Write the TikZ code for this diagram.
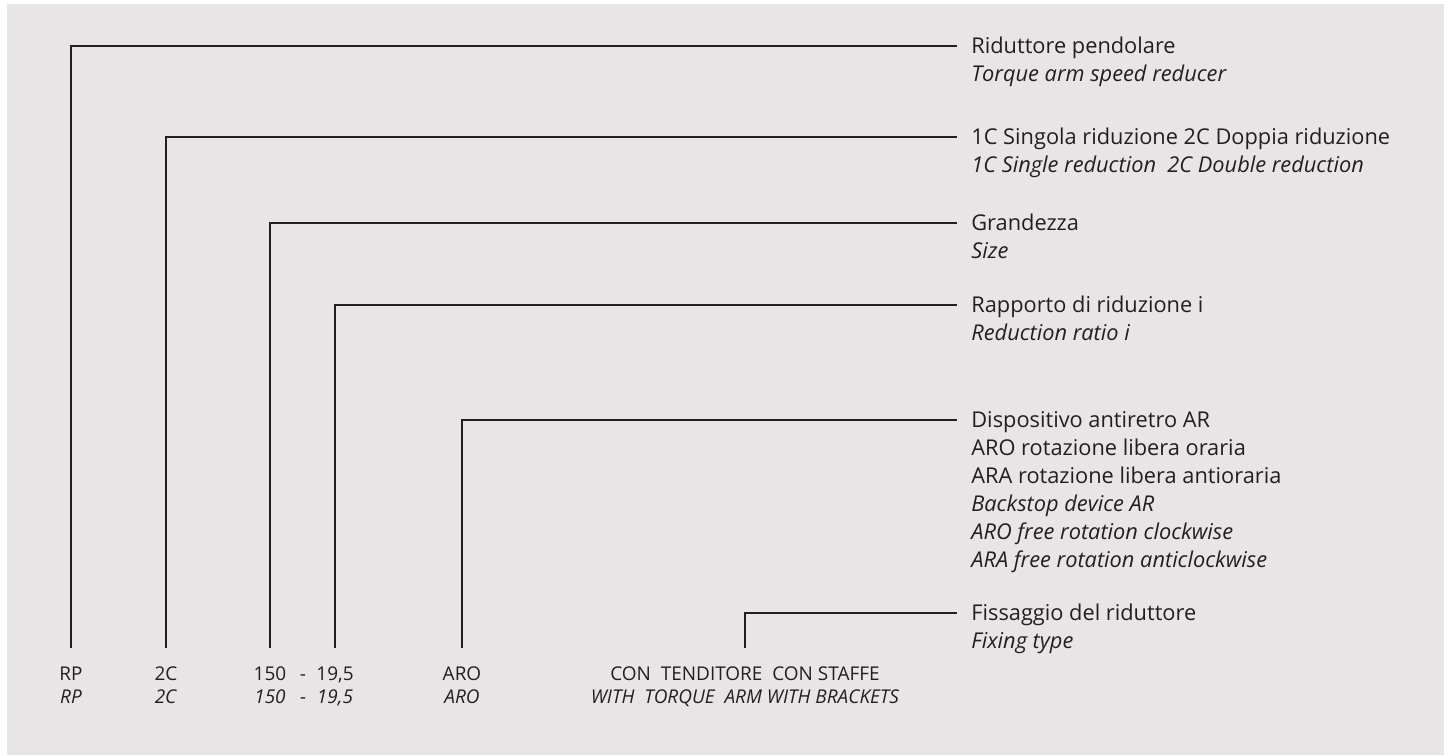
\documentclass[tikz,border=0pt]{standalone}
\usepackage{fontspec}
\setmainfont{Open Sans}
\usetikzlibrary{positioning}

\definecolor{paper}{HTML}{E7E5E6}
\definecolor{ink}{HTML}{231F20}

\begin{document}
\begin{tikzpicture}[x=0.02cm,y=-0.02cm,
        every node/.style={text=ink},
        legend/.style={anchor=north west,align=left,inner sep=0,font=\fontsize{12.4}{15.9}\selectfont},
        code/.style={anchor=base,align=center,inner sep=0,font=\fontsize{10.8}{13}\selectfont},
        leader/.style={draw=ink,line width=1.5pt},
        ]

\useasboundingbox (0,0) rectangle (1451,755);
\fill[paper] (7,4) rectangle (1444,755);

% codes along the bottom
\node[code] (cRP) at (71,703) {RP\\\textit{RP}};
\node[code] (c2C) at (166,703) {2C\\\textit{2C}};
\node[code] (c150) at (270,703) {150\\\textit{150}};
\node[code] (cdash) at (303,703) {-\\\textit{-}};
\node[code] (c195) at (335,703) {19,5\\\textit{19,5}};
\node[code] (cARO) at (462,703) {ARO\\\textit{ARO}};
\node[code] (cfix) at (745,703) {CON\ \ TENDITORE\ \ CON STAFFE\\\textit{WITH\ \ TORQUE\ \ ARM WITH BRACKETS}};

% descriptions on the right (strut fixes the first line)
\node[legend] (l1) at (971,34) {\strut Riduttore pendolare\\\textit{Torque arm speed reducer}};
\node[legend] (l2) at (971,125) {\strut 1C Singola riduzione 2C Doppia riduzione\\\textit{1C Single reduction\ \ 2C Double reduction}};
\node[legend] (l3) at (971,211) {\strut Grandezza\\\textit{Size}};
\node[legend] (l4) at (971,293) {\strut Rapporto di riduzione i\\\textit{Reduction ratio i}};
\node[legend] (l5) at (971,408) {\strut Dispositivo antiretro AR\\ARO rotazione libera oraria\\ARA rotazione libera antioraria\\\textit{Backstop device AR}\\\textit{ARO free rotation clockwise}\\\textit{ARA free rotation anticlockwise}};
\node[legend] (l6) at (971,601) {\strut Fissaggio del riduttore\\\textit{Fixing type}};

\draw[leader] ([shift={(0,-18)}]cRP.north) |- ([shift={(-14,12)}]l1.north west);
\draw[leader] ([shift={(0,-18)}]c2C.north) |- ([shift={(-14,12)}]l2.north west);
\draw[leader] ([shift={(0,-18)}]c150.north) |- ([shift={(-14,12)}]l3.north west);
\draw[leader] ([shift={(0,-18)}]c195.north) |- ([shift={(-14,12)}]l4.north west);
\draw[leader] ([shift={(0,-18)}]cARO.north) |- ([shift={(-14,12)}]l5.north west);
\draw[leader] ([shift={(0,-18)}]cfix.north) |- ([shift={(-14,12)}]l6.north west);

\end{tikzpicture}
\end{document}
